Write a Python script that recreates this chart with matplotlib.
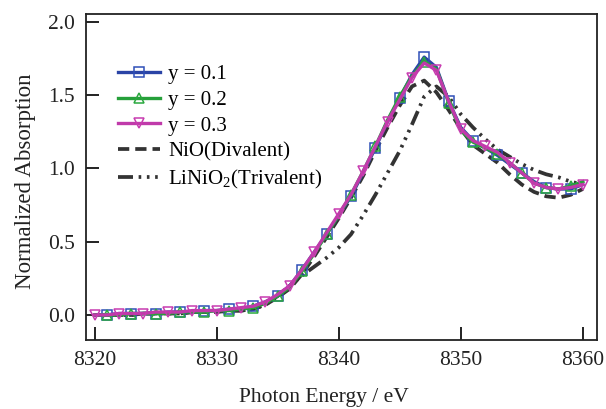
import matplotlib
matplotlib.use("Agg")
import matplotlib.pyplot as plt

plt.rcParams['font.family'] = ['Liberation Serif', 'DejaVu Serif']
plt.rcParams['mathtext.fontset'] = 'custom'
plt.rcParams['mathtext.rm'] = 'Liberation Serif'

# photon energy grid (eV)
energy = [8320, 8321, 8322, 8323, 8324, 8325, 8326, 8327, 8328, 8329,
          8330, 8331, 8332, 8333, 8334, 8335, 8336, 8337, 8338, 8339,
          8340, 8341, 8342, 8343, 8344, 8345, 8346, 8347, 8348, 8349,
          8350, 8351, 8352, 8353, 8354, 8355, 8356, 8357, 8358, 8359, 8360]

y01 = [0.00, 0.00, 0.01, 0.01, 0.01, 0.01, 0.02, 0.02, 0.02, 0.03,
       0.03, 0.04, 0.04, 0.06, 0.09, 0.13, 0.20, 0.31, 0.43, 0.55,
       0.68, 0.81, 0.97, 1.14, 1.32, 1.48, 1.64, 1.76, 1.69, 1.46,
       1.28, 1.19, 1.14, 1.09, 1.03, 0.97, 0.91, 0.87, 0.86, 0.86, 0.89]
y02 = [0.00, 0.00, 0.00, 0.01, 0.01, 0.01, 0.01, 0.02, 0.02, 0.02,
       0.03, 0.03, 0.04, 0.05, 0.08, 0.13, 0.19, 0.30, 0.42, 0.55,
       0.68, 0.82, 0.98, 1.15, 1.33, 1.49, 1.63, 1.73, 1.68, 1.45,
       1.26, 1.18, 1.14, 1.10, 1.04, 0.97, 0.90, 0.87, 0.86, 0.88, 0.91]
y03 = [0.00, 0.00, 0.01, 0.01, 0.01, 0.02, 0.02, 0.02, 0.03, 0.03,
       0.03, 0.04, 0.05, 0.06, 0.09, 0.14, 0.20, 0.31, 0.43, 0.56,
       0.69, 0.82, 0.98, 1.15, 1.32, 1.47, 1.62, 1.72, 1.67, 1.46,
       1.27, 1.19, 1.15, 1.11, 1.04, 0.97, 0.90, 0.87, 0.86, 0.87, 0.89]
nio = [0.00, 0.00, 0.00, 0.00, 0.01, 0.01, 0.01, 0.01, 0.02, 0.02,
       0.02, 0.03, 0.03, 0.04, 0.07, 0.12, 0.18, 0.28, 0.40, 0.53,
       0.66, 0.80, 0.95, 1.12, 1.28, 1.43, 1.56, 1.60, 1.52, 1.40,
       1.27, 1.16, 1.10, 1.04, 0.96, 0.89, 0.84, 0.81, 0.80, 0.82, 0.86]
linio2 = [0.00, 0.00, 0.00, 0.00, 0.01, 0.01, 0.01, 0.01, 0.02, 0.02,
          0.02, 0.03, 0.03, 0.04, 0.07, 0.13, 0.20, 0.27, 0.33, 0.39,
          0.46, 0.55, 0.68, 0.82, 0.97, 1.12, 1.30, 1.49, 1.56, 1.49,
          1.37, 1.28, 1.20, 1.13, 1.08, 1.03, 0.99, 0.96, 0.94, 0.91, 0.89]

fig = plt.figure(figsize=(6.06, 4.09), dpi=100)
ax = fig.add_axes([0.142, 0.169, 0.843, 0.797])

black = '#333333'
ax.plot(energy, nio, color=black, lw=2.7, dashes=(3, 1.6),
        label='NiO(Divalent)', zorder=2)
ax.plot(energy, linio2, color=black, lw=2.7,
        dashes=(4, 1.5, 0.7, 1.5, 0.7, 1.5, 0.7, 1.5),
        label=r'LiNiO$_\mathregular{2}$(Trivalent)', zorder=2)
ax.plot(energy, y01, color='#2a44a6', lw=2.4, marker='s', ms=7.5, mfc='none',
        mec='#2f4fb8', mew=1.1, markevery=(1, 2), label='y = 0.1', zorder=3)
ax.plot(energy, y02, color='#26a03a', lw=2.4, marker='^', ms=7.5, mfc='none',
        mec='#2aa83e', mew=1.1, markevery=(1, 2), label='y = 0.2', zorder=4)
ax.plot(energy, y03, color='#c03aaa', lw=2.4, marker='v', ms=7.5, mfc='none',
        mec='#c83cb0', mew=1.1, markevery=(0, 2), label='y = 0.3', zorder=5)

ax.set_xlim(8319.3, 8361.15)
ax.set_ylim(-0.17, 2.055)
ax.set_xticks([8320, 8330, 8340, 8350, 8360])
ax.set_yticks([0.0, 0.5, 1.0, 1.5, 2.0])
ax.set_yticklabels(['0.0', '0.5', '1.0', '1.5', '2.0'])
ax.tick_params(direction='in', length=9.5, width=1.4, labelsize=15.5, pad=8,
               colors='#222222')
for s in ax.spines.values():
    s.set_linewidth(1.3)
    s.set_color('#222222')

ax.set_xlabel('Photon Energy / eV', fontsize=15.5, color='#222222', va='top')
ax.xaxis.set_label_coords(0.466, -0.148)
ax.set_ylabel('Normalized Absorption', fontsize=16.5, color='#222222')
ax.yaxis.set_label_coords(-0.098, 0.486)

handles, labels = ax.get_legend_handles_labels()
order = [2, 3, 4, 0, 1]
ax.legend([handles[i] for i in order], [labels[i] for i in order],
          loc='upper left', bbox_to_anchor=(0.063, 0.845), frameon=False,
          fontsize=15, borderpad=0, borderaxespad=0, labelspacing=0.3,
          handlelength=2.0, handletextpad=0.4)

fig.savefig('out.png', dpi=100)
